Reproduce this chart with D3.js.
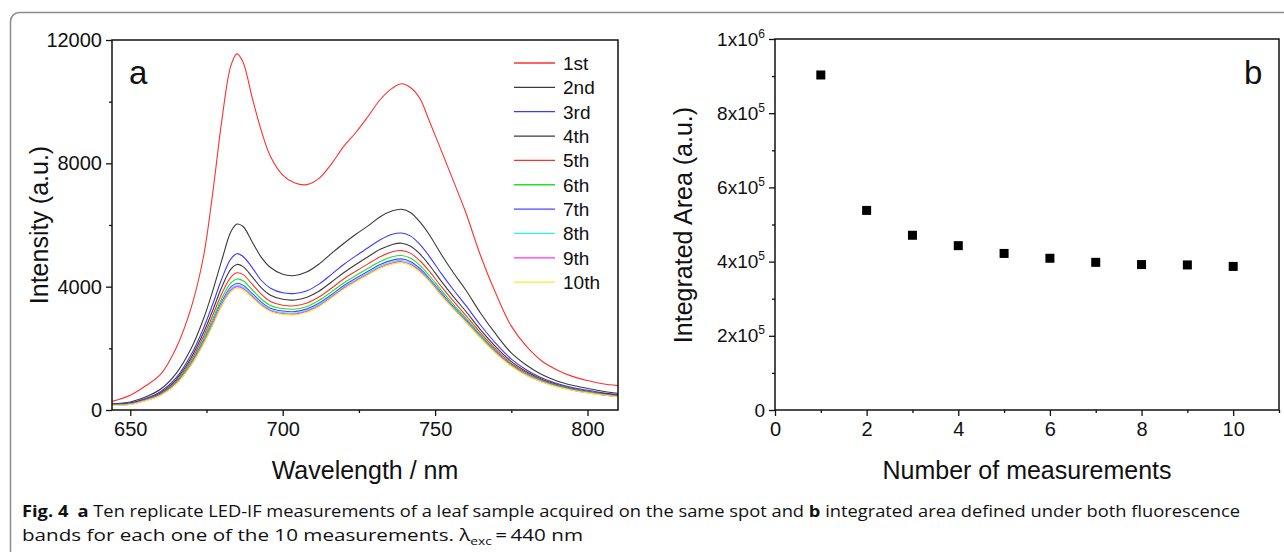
<!DOCTYPE html>
<html>
<head>
<meta charset="utf-8">
<script src="https://cdn.jsdelivr.net/npm/d3@7"></script>
<style>
  body { margin: 0; background: #fff; }
  svg text { font-family: "Liberation Sans", Arial, sans-serif; fill: #111; }
</style>
</head>
<body>
<script>
var wavelengths = [644, 650, 655, 660, 665, 670, 674, 677, 680, 683, 685, 687, 690, 693, 696, 700, 704, 708, 712, 716, 720, 724, 728, 732, 736, 739, 742, 745, 748, 752, 756, 760, 765, 770, 775, 780, 785, 790, 795, 800, 805, 810];

var s1st = [280, 480, 780, 1160, 2000, 3330, 4970, 7000, 9370, 11170, 11550, 11280, 10120, 9050, 8220, 7620, 7360, 7310, 7520, 7980, 8550, 9000, 9520, 10070, 10440, 10580, 10450, 10100, 9400, 8420, 7430, 6420, 4980, 3760, 2720, 2060, 1590, 1300, 1090, 955, 850, 790];
var s2nd = [200, 260, 420, 680, 1180, 2000, 2950, 3850, 4850, 5780, 6030, 5950, 5450, 4950, 4620, 4400, 4360, 4480, 4740, 5080, 5400, 5700, 5970, 6270, 6460, 6510, 6400, 6100, 5700, 5050, 4450, 3900, 3130, 2450, 1850, 1450, 1150, 940, 800, 700, 610, 545];
var s3rd = [180, 230, 370, 600, 1040, 1800, 2650, 3420, 4250, 4900, 5070, 4980, 4620, 4200, 3950, 3800, 3780, 3870, 4090, 4400, 4720, 5000, 5260, 5520, 5700, 5740, 5640, 5370, 5000, 4430, 3900, 3400, 2740, 2150, 1650, 1300, 1040, 860, 730, 640, 560, 500];
var s4th = [170, 215, 350, 560, 980, 1700, 2500, 3220, 3980, 4570, 4720, 4650, 4320, 3960, 3720, 3590, 3570, 3660, 3860, 4150, 4450, 4720, 4970, 5210, 5370, 5410, 5310, 5060, 4710, 4180, 3680, 3210, 2590, 2040, 1570, 1240, 1000, 830, 700, 610, 540, 480];
var s5th = [165, 205, 335, 535, 930, 1620, 2380, 3060, 3770, 4310, 4450, 4390, 4080, 3750, 3520, 3400, 3380, 3470, 3670, 3950, 4250, 4500, 4740, 4970, 5130, 5170, 5080, 4840, 4510, 4010, 3530, 3080, 2490, 1960, 1510, 1200, 970, 800, 680, 590, 520, 465];
var s6th = [160, 200, 325, 515, 895, 1560, 2290, 2940, 3620, 4120, 4250, 4190, 3900, 3600, 3390, 3290, 3270, 3360, 3560, 3830, 4120, 4360, 4600, 4820, 4970, 5010, 4920, 4690, 4370, 3890, 3420, 2990, 2420, 1910, 1470, 1170, 950, 790, 670, 580, 510, 455];
var s7th = [155, 195, 315, 500, 870, 1510, 2220, 2850, 3510, 3990, 4110, 4050, 3780, 3500, 3300, 3210, 3190, 3280, 3470, 3740, 4030, 4270, 4500, 4720, 4860, 4900, 4810, 4590, 4280, 3810, 3350, 2930, 2380, 1880, 1450, 1150, 930, 775, 660, 570, 500, 445];
var s8th = [150, 190, 310, 490, 855, 1490, 2190, 2810, 3460, 3930, 4050, 3990, 3720, 3450, 3250, 3160, 3140, 3230, 3420, 3690, 3980, 4220, 4450, 4670, 4810, 4850, 4760, 4540, 4240, 3770, 3320, 2900, 2360, 1860, 1440, 1140, 920, 765, 650, 565, 495, 440];
var s9th = [150, 185, 305, 485, 845, 1470, 2160, 2770, 3410, 3880, 4000, 3940, 3680, 3410, 3220, 3130, 3110, 3200, 3390, 3660, 3950, 4190, 4410, 4630, 4770, 4810, 4720, 4510, 4210, 3740, 3300, 2880, 2340, 1850, 1430, 1130, 915, 760, 645, 560, 490, 435];
var s10th = [145, 180, 300, 475, 830, 1450, 2130, 2730, 3370, 3830, 3950, 3890, 3640, 3380, 3190, 3100, 3080, 3170, 3360, 3630, 3920, 4160, 4380, 4600, 4730, 4770, 4680, 4470, 4180, 3710, 3270, 2860, 2320, 1830, 1420, 1120, 905, 750, 640, 555, 485, 430];

var seriesNames = ['1st', '2nd', '3rd', '4th', '5th', '6th', '7th', '8th', '9th', '10th'];
var seriesValues = [s1st, s2nd, s3rd, s4th, s5th, s6th, s7th, s8th, s9th, s10th];
var seriesColors = ['#ff3030', '#3a3a3a', '#3a3aff', '#3a3a3a', '#ff3030', '#22e022', '#4848ff', '#30f0f0', '#ff30ff', '#f5f020'];

// panel b
var measurementNo = [1, 2, 3, 4, 5, 6, 7, 8, 9, 10];
var integratedArea = [903000, 538000, 471000, 443000, 422000, 409000, 398000, 392000, 391000, 387000];

// tick labels
var aXTicks = [650, 700, 750, 800];
var aXMinor = [675, 725, 775];
var aYTicks = [0, 4000, 8000, 12000];
var aYMinor = [2000, 6000, 10000];
var bXTicks = [0, 2, 4, 6, 8, 10];
var bXMinor = [1, 3, 5, 7, 9, 11];
var bYTicks = [0, 200000, 400000, 600000, 800000, 1000000];
var bYMinor = [100000, 300000, 500000, 700000, 900000];

var W = 1284, H = 552;
var svg = d3.select('body').append('svg')
  .attr('width', W)
  .attr('height', H);

// outer rounded frame of the figure
svg.append('rect')
  .attr('x', 10.5).attr('y', 12.5)
  .attr('width', 1320).attr('height', 620)
  .attr('rx', 9)
  .attr('fill', 'none')
  .attr('stroke', '#8c8c8c')
  .attr('stroke-width', 1.5);

function styleAxis(g, size) {
  g.select('.domain').remove();
  g.selectAll('line').attr('stroke', '#111').attr('stroke-width', 1.3);
  g.selectAll('text').attr('font-size', size).attr('fill', '#111')
    .attr('font-family', '"Liberation Sans", Arial, sans-serif');
}

function drawFrame(x0, y0, x1, y1) {
  svg.append('rect')
    .attr('x', x0).attr('y', y0)
    .attr('width', x1 - x0).attr('height', y1 - y0)
    .attr('fill', 'none')
    .attr('stroke', '#111')
    .attr('stroke-width', 1.5);
}

// ---------- panel a ----------
var xA = d3.scaleLinear().domain([644, 810]).range([112, 618]);
var yA = d3.scaleLinear().domain([0, 12000]).range([410, 40]);

svg.append('clipPath').attr('id', 'clipA')
  .append('rect').attr('x', 112).attr('y', 40).attr('width', 506).attr('height', 370);

var line = d3.line()
  .x((d, i) => xA(wavelengths[i]))
  .y(d => yA(d))
  .curve(d3.curveCatmullRom.alpha(0.5));

svg.append('g').attr('clip-path', 'url(#clipA)')
  .selectAll('path')
  .data(seriesValues)
  .enter()
  .append('path')
  .attr('d', d => line(d))
  .attr('fill', 'none')
  .attr('stroke', (d, i) => seriesColors[i])
  .attr('stroke-width', 1.1);

svg.append('g').attr('transform', 'translate(0,410)')
  .call(d3.axisBottom(xA).tickValues(aXTicks).tickSize(6).tickSizeOuter(0).tickPadding(6))
  .call(g => styleAxis(g, 20));
svg.append('g').attr('transform', 'translate(0,410)')
  .call(d3.axisBottom(xA).tickValues(aXMinor).tickSize(3).tickSizeOuter(0).tickFormat(''))
  .call(g => styleAxis(g, 20));
svg.append('g').attr('transform', 'translate(112,0)')
  .call(d3.axisLeft(yA).tickValues(aYTicks).tickSize(6).tickSizeOuter(0).tickPadding(4).tickFormat(d3.format('d')))
  .call(g => styleAxis(g, 20));
svg.append('g').attr('transform', 'translate(112,0)')
  .call(d3.axisLeft(yA).tickValues(aYMinor).tickSize(3).tickSizeOuter(0).tickFormat(''))
  .call(g => styleAxis(g, 20));
drawFrame(112, 40, 618, 410);

svg.append('text').attr('x', 129).attr('y', 84)
  .attr('font-size', 33).text('a');

// legend
var legend = svg.append('g').selectAll('g')
  .data(seriesNames)
  .enter()
  .append('g')
  .attr('transform', (d, i) => 'translate(514,' + (63 + i * 24.35) + ')');
legend.append('line')
  .attr('x1', 0).attr('x2', 41)
  .attr('stroke', (d, i) => seriesColors[i])
  .attr('stroke-width', 1.3);
legend.append('text')
  .attr('x', 49).attr('y', 7)
  .attr('font-size', 19)
  .text(d => d);

svg.append('text')
  .attr('x', 365).attr('y', 479)
  .attr('text-anchor', 'middle')
  .attr('font-size', 25)
  .text('Wavelength / nm');
svg.append('text')
  .attr('transform', 'translate(48,225) rotate(-90)')
  .attr('text-anchor', 'middle')
  .attr('font-size', 25)
  .text('Intensity (a.u.)');

// ---------- panel b ----------
var xB = d3.scaleLinear().domain([0, 11]).range([775, 1279]);
var yB = d3.scaleLinear().domain([0, 1000000]).range([410, 39]);

svg.append('g').attr('transform', 'translate(0,410)')
  .call(d3.axisBottom(xB).tickValues(bXTicks).tickSize(6).tickSizeOuter(0).tickPadding(6))
  .call(g => styleAxis(g, 20));
svg.append('g').attr('transform', 'translate(0,410)')
  .call(d3.axisBottom(xB).tickValues(bXMinor).tickSize(3).tickSizeOuter(0).tickFormat(''))
  .call(g => styleAxis(g, 20));
var yAxisB = svg.append('g').attr('transform', 'translate(775,0)')
  .call(d3.axisLeft(yB).tickValues(bYTicks).tickSize(6).tickSizeOuter(0).tickPadding(4))
  .call(g => styleAxis(g, 19));
yAxisB.selectAll('text').each(function(d) {
  var t = d3.select(this).text('');
  if (d === 0) { t.text('0'); return; }
  var e = Math.floor(Math.log10(d) + 1e-9);
  var m = Math.round(d / Math.pow(10, e));
  t.append('tspan').text(m + 'x10');
  t.append('tspan').attr('dy', -8).attr('font-size', 12).text(e);
});
svg.append('g').attr('transform', 'translate(775,0)')
  .call(d3.axisLeft(yB).tickValues(bYMinor).tickSize(3).tickSizeOuter(0).tickFormat(''))
  .call(g => styleAxis(g, 19));
drawFrame(775, 39, 1279, 410);

svg.append('g').selectAll('rect')
  .data(measurementNo)
  .enter()
  .append('rect')
  .attr('x', (d) => xB(d) - 4.5)
  .attr('y', (d, i) => yB(integratedArea[i]) - 4.5)
  .attr('width', 9).attr('height', 9)
  .attr('fill', '#000');

svg.append('text').attr('x', 1244).attr('y', 84)
  .attr('font-size', 33).text('b');

svg.append('text')
  .attr('x', 1027).attr('y', 479)
  .attr('text-anchor', 'middle')
  .attr('font-size', 25)
  .text('Number of measurements');
svg.append('text')
  .attr('transform', 'translate(692,225) rotate(-90)')
  .attr('text-anchor', 'middle')
  .attr('font-size', 25)
  .text('Integrated Area (a.u.)');

// ---------- caption ----------
var cap1 = svg.append('text')
  .attr('x', 22).attr('y', 517)
  .attr('font-size', 16.5)
  .attr('textLength', 1218)
  .attr('lengthAdjust', 'spacingAndGlyphs')
  .style('font-family', '"Open Sans", "Noto Sans", sans-serif');
cap1.append('tspan').attr('font-weight', 'bold').text('Fig. 4');
cap1.append('tspan').attr('font-weight', 'bold').text('\u2002a');
cap1.append('tspan').text(' Ten replicate LED-IF measurements of a leaf sample acquired on the same spot and ');
cap1.append('tspan').attr('font-weight', 'bold').text('b');
cap1.append('tspan').text(' integrated area defined under both fluorescence');

var cap2 = svg.append('text')
  .attr('x', 22).attr('y', 541)
  .attr('font-size', 16.5)
  .attr('textLength', 561)
  .attr('lengthAdjust', 'spacingAndGlyphs')
  .style('font-family', '"Open Sans", "Noto Sans", sans-serif');
cap2.append('tspan').text('bands for each one of the 10 measurements. \u03bb');
cap2.append('tspan').attr('dy', 4).attr('font-size', 11).text('exc');
cap2.append('tspan').attr('dy', -4).text('\u2009=\u2009440 nm');
</script>
</body>
</html>
